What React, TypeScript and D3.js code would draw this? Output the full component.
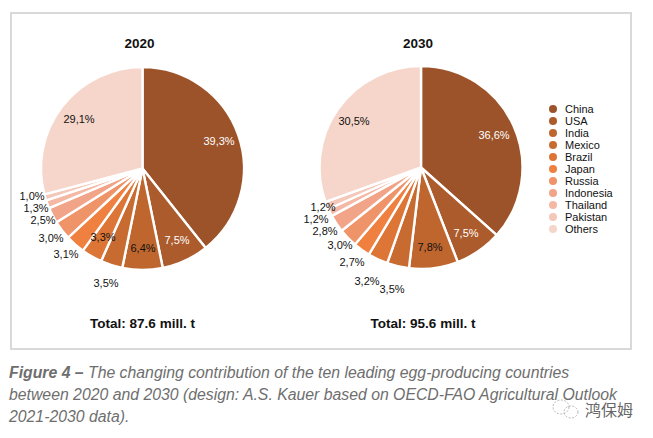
import React from "react";
import * as d3 from "d3";

const categories = ["China","USA","India","Mexico","Brazil","Japan","Russia","Indonesia","Thailand","Pakistan","Others"];
const values2020 = [39.3,7.5,6.4,3.5,3.3,3.1,3.0,2.5,1.3,1.0,29.1];
const values2030 = [36.6,7.5,7.8,3.5,3.2,2.7,3.0,2.8,1.2,1.2,30.5];
const colors = ["#9c5329","#ab5b2c","#bf662f","#c86b31","#dc7535","#ef803f","#ef9369","#f2a488","#f4b8a4","#f5c7b8","#f6d5ca"];
const labelText2020 = ["39,3%","7,5%","6,4%","3,5%","3,3%","3,1%","3,0%","2,5%","1,3%","1,0%","29,1%"];
const labelText2030 = ["36,6%","7,5%","7,8%","3,5%","3,2%","2,7%","3,0%","2,8%","1,2%","1,2%","30,5%"];
const labelFill = ["#fff","#fff","#111","#111","#111","#111","#111","#111","#111","#111","#111"];
const anchors2020: [number, number][] = [[219,145],[177,244],[143,252],[106,287],[103,241],[66,258],[51,242],[43,224],[36,212],[32,200],[79,123]];
const anchors2030: [number, number][] = [[494,139],[466,237],[430,251],[392,293],[367,285],[352,266],[340,249],[325,235],[316,223],[323,211],[354,125]];

const FONT = "'Liberation Sans', Arial, sans-serif";

function Pie({ cx, cy, r, values, texts, anchors, title, total, totalX }: any) {
  const pie = d3.pie<number>().sort(null).value((d) => d);
  const arc = d3.arc<d3.PieArcDatum<number>>().innerRadius(0).outerRadius(r);
  const arcs = pie(values);
  return (
    <g>
      <g transform={`translate(${cx},${cy})`}>
        {arcs.map((a, i) => (
          <path key={i} d={arc(a) as string} fill={colors[i]} stroke="#fff" strokeWidth={2.4} strokeLinejoin="round" />
        ))}
      </g>
      {texts.map((t: string, i: number) => (
        <text key={i} x={anchors[i][0]} y={anchors[i][1]} textAnchor="middle" fontSize={11} fill={labelFill[i]} fontFamily={FONT}>{t}</text>
      ))}
      <text x={cx - 3} y={48} textAnchor="middle" fontSize={13.5} fontWeight="bold" fill="#111" fontFamily={FONT}>{title}</text>
      <text x={totalX} y={328} textAnchor="middle" fontSize={13.5} fontWeight="bold" fill="#111" fontFamily={FONT}>{total}</text>
    </g>
  );
}

export default function App() {
  const legendY = d3.scalePoint<string>().domain(categories).range([109, 229]);
  return (
    <svg width={653} height={438} style={{ position: "absolute", left: 0, top: 0, background: "#fff" }}>
      <rect x={11} y={13} width={620} height={336} fill="#fff" stroke="#d9d9d9" strokeWidth={2} />
      <Pie cx={142.5} cy={168.5} r={101.5} values={values2020} texts={labelText2020} anchors={anchors2020} title="2020" total="Total: 87.6 mill. t" totalX={142.5} />
      <Pie cx={421} cy={167.5} r={101.5} values={values2030} texts={labelText2030} anchors={anchors2030} title="2030" total="Total: 95.6 mill. t" totalX={423} />
      {categories.map((c, i) => (
        <g key={c}>
          <circle cx={553} cy={legendY(c)} r={4} fill={colors[i]} />
          <text x={565} y={(legendY(c) as number) + 4} fontSize={11} fill="#111" fontFamily={FONT}>{c}</text>
        </g>
      ))}
      <g fontFamily={FONT} fontSize={15.8} fontStyle="italic" fill="#6e6e6e">
        <text x={9} y={378}><tspan fontWeight="bold">Figure 4 – </tspan>The changing contribution of the ten leading egg-producing countries</text>
        <text x={9} y={400}>between 2020 and 2030 (design: A.S. Kauer based on OECD-FAO Agricultural Outlook</text>
        <text x={9} y={422}>2021-2030 data).</text>
      </g>
      <text x={585} y={416} fontSize={16} fill="#666" fontFamily="'Noto Sans CJK SC'">鸿保姆</text>
      <g fill="none" stroke="#999" strokeWidth={0.7} strokeDasharray="2 1.5">
        <ellipse cx={561} cy={407} rx={8} ry={7} />
        <ellipse cx={571} cy={412} rx={7} ry={6} />
      </g>
    </svg>
  );
}
